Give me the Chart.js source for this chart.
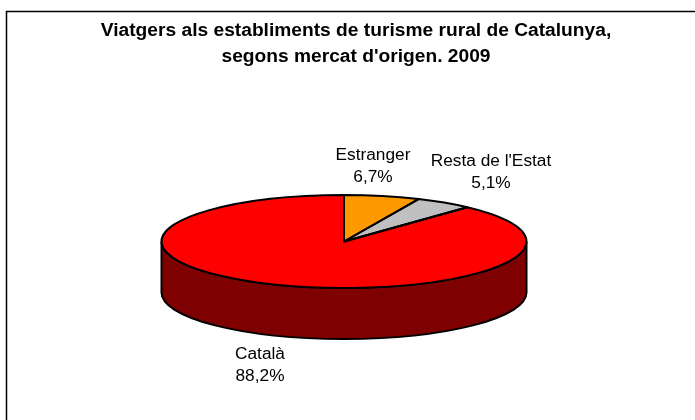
<!DOCTYPE html>
<html>
<head>
<meta charset="utf-8">
<title>Viatgers turisme rural</title>
<script src="https://cdn.jsdelivr.net/npm/chart.js@4"></script>
<style>
  html, body { margin: 0; padding: 0; background: #fff; overflow: hidden; }
  canvas { display: block; }
</style>
</head>
<body>
<canvas id="chart-1" width="695" height="420"></canvas>
<script>
// Data
const categories = ['Estranger', "Resta de l'Estat", 'Català'];
const values = [6.7, 5.1, 88.2];
const valueLabels = ['6,7%', '5,1%', '88,2%'];
const titleLines = ["Viatgers als establiments de turisme rural de Catalunya,", "segons mercat d'origen. 2009"];

// Look of the tilted pie
const sliceColors = ['#ff9900', '#c0c0c0', '#ff0000'];
const sideColor = '#7f0000';
const pieX = 344, pieY = 241.5, pieR = 182.5, pieRy = 46.5, pieDepth = 51;
const labelAnchors = [[373, 155], [491, 161], [260, 354]]; // centre of the first text line

// squash the round pie into an ellipse and draw the side wall under it
const tiltPlugin = {
  id: 'tilt',
  beforeDraw(chart) {
    const c = chart.ctx;
    c.save();
    c.strokeStyle = '#000';
    c.lineWidth = 1.5;
    c.strokeRect(6.5, 11.5, 800, 600); // frame runs off the right and bottom
    c.restore();
  },
  beforeDatasetDraw(chart, args) {
    const c = chart.ctx;
    c.save();
    c.beginPath();
    c.ellipse(pieX, pieY + pieDepth, pieR, pieRy, 0, 0, Math.PI);
    c.lineTo(pieX - pieR, pieY);
    c.ellipse(pieX, pieY, pieR, pieRy, 0, Math.PI, 0, true);
    c.closePath();
    c.fillStyle = sideColor;
    c.fill();
    c.strokeStyle = '#000';
    c.lineWidth = 2;
    c.stroke();
    c.restore();

    const arc = args.meta.data[0];
    c.save();
    c.translate(pieX, pieY);
    c.scale(1, pieRy / pieR);
    c.translate(-arc.x, -arc.y);
  },
  afterDatasetDraw(chart, args) {
    const c = chart.ctx;
    c.restore();
    // outlines go here, inside the squashed context they would get thin
    args.meta.data.forEach(function (arc) {
      c.beginPath();
      c.moveTo(pieX, pieY);
      c.ellipse(pieX, pieY, pieR, pieRy, 0, arc.startAngle, arc.endAngle);
      c.closePath();
      c.strokeStyle = '#000';
      c.lineWidth = 2;
      c.lineJoin = 'round';
      c.stroke();
    });
  },
  afterDraw(chart) {
    const c = chart.ctx;
    c.save();
    c.font = '17.3px "Liberation Sans", Arial, sans-serif';
    c.fillStyle = '#000';
    c.textAlign = 'center';
    c.textBaseline = 'middle';
    categories.forEach(function (name, i) {
      c.fillText(name, labelAnchors[i][0], labelAnchors[i][1]);
      c.fillText(valueLabels[i], labelAnchors[i][0], labelAnchors[i][1] + 22);
    });
    c.restore();
  }
};

new Chart(document.getElementById('chart-1'), {
  type: 'pie',
  data: {
    labels: categories,
    datasets: [{
      data: values,
      backgroundColor: sliceColors,
      borderWidth: 0,
      radius: pieR,
      clip: false
    }]
  },
  options: {
    responsive: false,
    animation: false,
    layout: { padding: { left: 17 } },
    plugins: {
      title: {
        display: true,
        text: titleLines,
        color: '#000',
        font: { family: '"Liberation Sans", Arial, sans-serif', size: 19.2, weight: 'bold', lineHeight: 1.354 },
        padding: { top: 18, bottom: 0 }
      },
      legend: { display: false },
      tooltip: { enabled: false }
    }
  },
  plugins: [tiltPlugin]
});
</script>
</body>
</html>
